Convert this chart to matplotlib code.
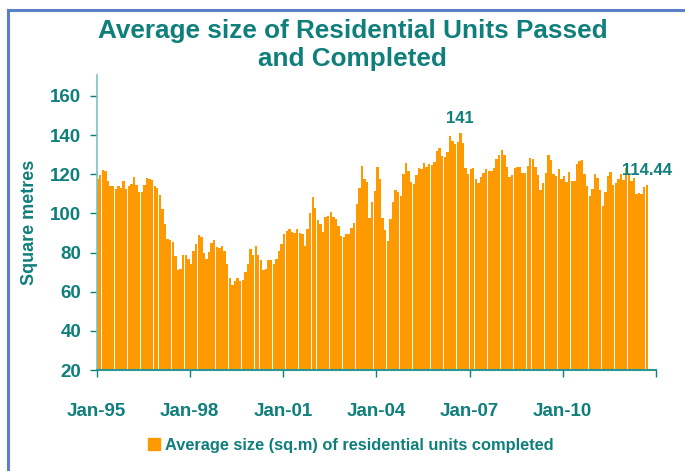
import numpy as np
import matplotlib
matplotlib.use("Agg")
import matplotlib.pyplot as plt
from matplotlib.lines import Line2D
from matplotlib.patches import Patch

# monthly average size (sq.m) of completed residential units, from Jan-1995
sizes_95_99 = [117.4, 119.5, 122, 121.5, 116.4, 113.9, 113.9, 112.3, 113.9, 112.8, 116.4, 112.3,
               113.9, 114.9, 118.5, 114.4, 110.8, 110.8, 114.4, 118, 117.4, 116.9, 113.9, 112.8,
               109.2, 102.1, 94.4, 86.7, 86.2, 85.2, 78, 70.9, 71.4, 79, 79, 76.5,
               73.9, 80.6, 84.2, 88.8, 87.7, 79.6, 76.5, 80.1, 84.7, 86.2, 82.6, 82.1,
               83.1, 80.6, 73.9, 66.8, 63.2, 65.7, 66.8, 65.7, 66.2, 70.3, 73.9, 81.6]
sizes_00_04 = [79, 83.1, 79, 76, 70.9, 71.4, 76, 76, 73.9, 76.5, 80.6, 84.2,
               89.3, 90.8, 91.8, 90.3, 89.8, 91.8, 89.8, 89.3, 83.1, 91.8, 100, 108.2,
               102.6, 96.5, 94.4, 90.3, 98, 98.5, 100.5, 98, 97, 93.4, 88.3, 87.7,
               89.3, 89.3, 92.4, 94.9, 104.6, 112.8, 124.1, 117.4, 115.9, 97.5, 105.7, 111.3,
               123.5, 117.4, 97.5, 91.3, 85.7, 97, 105.7, 111.8, 110.8, 108.7, 120, 125.6]
sizes_05_09 = [121.5, 115.9, 114.9, 119.5, 123.1, 122.6, 125.6, 123.5, 125.1, 124.6, 126.1, 131.8,
               133.3, 129.2, 128.7, 131.3, 139.5, 136.9, 135.4, 136.4, 141, 135.9, 123.1, 120,
               122.6, 123.1, 117.4, 115.4, 118.5, 120.5, 122.6, 121.5, 121.5, 123.1, 127.7, 129.7,
               132.3, 129.7, 123.5, 118.5, 119.5, 123.1, 123.5, 123.5, 120.5, 120.5, 124.1, 128.2,
               127.7, 123.5, 119.5, 111.8, 115.4, 120.5, 129.7, 127.2, 120, 119, 122.6, 117.6]
sizes_10_12 = [119, 116, 121, 116.4, 116.4, 125, 127, 127.4, 120.3, 114.2, 109, 112.6,
               120.3, 118, 112, 104, 111, 119.3, 121.3, 114.5, 115.5, 117.5, 120, 117,
               123, 120, 116.5, 118, 110, 110.3, 109.8, 113.6, 114.44]
sizes = sizes_95_99 + sizes_00_04 + sizes_05_09 + sizes_10_12

tick_labels = ['Jan-95', 'Jan-98', 'Jan-01', 'Jan-04', 'Jan-07', 'Jan-10']
legend_label = 'Average size (sq.m) of residential units completed'

teal = '#0f7f7c'
orange = '#ff9900'

plt.rcParams['font.family'] = ['Liberation Sans', 'DejaVu Sans']

fig = plt.figure(figsize=(6.85, 4.71), dpi=100)
ax = fig.add_axes([0.1409, 0.2144, 0.8168, 0.6264])

months = np.arange(len(sizes))
ax.bar(months, sizes, width=0.92, align='edge', color=orange, linewidth=0)

ax.set_xlim(0, 216)
ax.set_ylim(20, 170.7)
ax.set_yticks(np.arange(20, 161, 20))
ax.set_xticks(np.arange(0, 217, 36))
ax.set_xticklabels(tick_labels + [''])

for s in ['top', 'right']:
    ax.spines[s].set_visible(False)
ax.spines['left'].set_color('#7fc2c0')
ax.spines['bottom'].set_color('#2a9592')
ax.spines['left'].set_linewidth(1.2)
ax.spines['bottom'].set_linewidth(1.5)

ax.tick_params(axis='both', colors=teal, length=5, width=1, labelsize=13.5)
ax.tick_params(axis='x', pad=19)
ax.tick_params(axis='y', pad=6)
for lab in ax.get_xticklabels() + ax.get_yticklabels():
    lab.set_fontweight('bold')
    lab.set_color(teal)

ax.set_ylabel('Square metres', color=teal, fontsize=13, fontweight='bold', labelpad=9)

# data labels: peak and latest value
peak = int(np.argmax(sizes))
last = len(sizes) - 1
for i, txt in [(peak, '141'), (last, '114.44')]:
    ax.annotate(txt, (i + 0.45, sizes[i]), xytext=(0, 5), textcoords='offset points',
                ha='center', va='bottom', color=teal, fontsize=12, fontweight='bold',
                annotation_clip=False)

fig.suptitle('Average size of Residential Units Passed\nand Completed', x=0.515, y=0.96,
             color=teal, fontsize=18.8, fontweight='bold', linespacing=1.22)

fig.legend(handles=[Patch(color=orange)], labels=[legend_label], loc='center',
           bbox_to_anchor=(0.512, 0.055), frameon=False, handlelength=0.7, handleheight=0.7,
           handletextpad=0.3, prop={'weight': 'bold', 'size': 11.8}, labelcolor=teal)

# slide frame
fig.add_artist(Line2D([0.012, 0.012], [0, 0.978], color='#5b80c8', lw=2.2))
fig.add_artist(Line2D([0.012, 1.0], [0.978, 0.978], color='#5b80c8', lw=2.2))

fig.savefig('out.png', dpi=100)
